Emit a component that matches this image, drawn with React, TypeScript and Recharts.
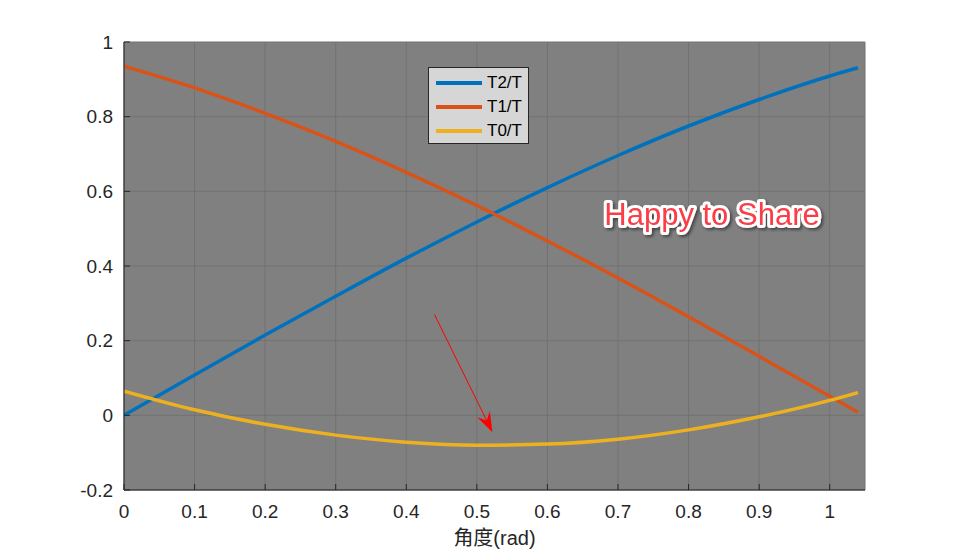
import { LineChart, Line, XAxis, YAxis, CartesianGrid, ReferenceLine } from 'recharts';

// angle (rad)
const X_VALUES = [0, 0.1, 0.2, 0.3, 0.4, 0.5, 0.6, 0.7, 0.8, 0.9, 1.0, 1.04];
const T2_VALUES = [0, 0.108, 0.215, 0.319, 0.421, 0.518, 0.61, 0.696, 0.775, 0.846, 0.909, 0.931];
const T1_VALUES = [0.935, 0.877, 0.809, 0.734, 0.651, 0.562, 0.467, 0.368, 0.264, 0.158, 0.051, 0.008];
const T0_VALUES = [0.065, 0.015, -0.024, -0.053, -0.072, -0.08, -0.077, -0.064, -0.039, -0.004, 0.04, 0.061];

const X_TICKS = [0, 0.1, 0.2, 0.3, 0.4, 0.5, 0.6, 0.7, 0.8, 0.9, 1];
const Y_TICKS = [-0.2, 0, 0.2, 0.4, 0.6, 0.8, 1];

const SERIES = [
  { key: 't2', name: 'T2/T', color: '#0072BD' },
  { key: 't1', name: 'T1/T', color: '#D95319' },
  { key: 't0', name: 'T0/T', color: '#EDB120' },
];

// arrow annotation, start -> tip
const ARROW = [
  { x: 0.44, y: 0.27 },
  { x: 0.522, y: -0.045 },
];

const data = X_VALUES.map((x, i) => ({
  x,
  t2: T2_VALUES[i],
  t1: T1_VALUES[i],
  t0: T0_VALUES[i],
}));

const FONT = '"Liberation Sans", Arial, Helvetica, sans-serif';
const AXIS_COLOR = '#262626';

function Arrow(props: any) {
  const { x1, y1, x2, y2 } = props;
  if (x1 == null) return null;
  const dx = x2 - x1;
  const dy = y2 - y1;
  const len = Math.sqrt(dx * dx + dy * dy);
  const ux = dx / len;
  const uy = dy / len;
  const headLen = 20;
  const notch = 13;
  const half = 7;
  const bx = x2 - ux * headLen;
  const by = y2 - uy * headLen;
  const nx = x2 - ux * notch;
  const ny = y2 - uy * notch;
  const pts = [
    [x2, y2],
    [bx - uy * half, by + ux * half],
    [nx, ny],
    [bx + uy * half, by - ux * half],
  ]
    .map((p) => p.join(','))
    .join(' ');
  return (
    <g>
      <line x1={x1} y1={y1} x2={nx} y2={ny} stroke="#ff0000" strokeWidth={1} />
      <polygon points={pts} fill="#ff0000" />
    </g>
  );
}

export default function App() {
  return (
    <div style={{ position: 'absolute', left: 0, top: 0, width: 956, height: 554, background: '#fff' }}>
      <LineChart
        width={956}
        height={554}
        data={data}
        margin={{ top: 42, right: 91, bottom: 0, left: 0 }}
      >
        <CartesianGrid stroke="#727272" fill="#808080" fillOpacity={1} strokeWidth={1} xAxisId="bottom" yAxisId="left" />
        <XAxis
          xAxisId="bottom"
          dataKey="x"
          type="number"
          domain={[0, 1.05]}
          ticks={X_TICKS}
          allowDataOverflow
          height={64}
          tickSize={-6}
          tickMargin={21}
          stroke={AXIS_COLOR}
          tick={{ fill: AXIS_COLOR, fontSize: 19, fontFamily: FONT }}
          interval={0}
          label={{
            content: ({ viewBox }: any) => (
              <text
                x={viewBox.x + viewBox.width / 2}
                y={viewBox.y + 55}
                textAnchor="middle"
                fill={AXIS_COLOR}
                fontSize={20}
                fontFamily={'"Liberation Sans", "Noto Sans CJK SC", sans-serif'}
              >
                角度(rad)
              </text>
            ),
          }}
        />
        <XAxis
          xAxisId="top"
          orientation="top"
          dataKey="x"
          type="number"
          domain={[0, 1.05]}
          ticks={X_TICKS}
          allowDataOverflow
          height={0}
          tickSize={-6}
          tick={false}
          stroke={AXIS_COLOR}
        />
        <YAxis
          yAxisId="left"
          type="number"
          domain={[-0.2, 1]}
          ticks={Y_TICKS}
          allowDataOverflow
          width={124}
          tickSize={-6}
          tickMargin={17}
          stroke={AXIS_COLOR}
          tick={{ fill: AXIS_COLOR, fontSize: 19, fontFamily: FONT }}
          interval={0}
        />
        <YAxis
          yAxisId="right"
          orientation="right"
          type="number"
          domain={[-0.2, 1]}
          ticks={Y_TICKS}
          allowDataOverflow
          width={0}
          tickSize={-6}
          tick={false}
          stroke={AXIS_COLOR}
        />
        {SERIES.map((s) => (
          <Line
            key={s.key}
            xAxisId="bottom"
            yAxisId="left"
            type="monotone"
            dataKey={s.key}
            name={s.name}
            stroke={s.color}
            strokeWidth={3.5}
            dot={false}
            isAnimationActive={false}
          />
        ))}
        <ReferenceLine
          xAxisId="bottom"
          yAxisId="left"
          segment={ARROW}
          ifOverflow="visible"
          shape={Arrow}
        />
      </LineChart>

      {/* legend box */}
      <div
        style={{
          position: 'absolute',
          left: 428,
          top: 67,
          width: 99,
          height: 75,
          background: '#d6d6d6',
          border: '1px solid #262626',
          fontFamily: FONT,
          fontSize: 17,
          color: '#000',
        }}
      >
        {SERIES.map((s, i) => (
          <div
            key={s.key}
            style={{ position: 'absolute', left: 7, top: 5 + i * 24, height: 20, display: 'flex', alignItems: 'center' }}
          >
            <div style={{ width: 46, height: 3.5, background: s.color }} />
            <span style={{ marginLeft: 5, lineHeight: '20px' }}>{s.name}</span>
          </div>
        ))}
      </div>

      {/* watermark text */}
      <svg
        width={956}
        height={554}
        style={{ position: 'absolute', left: 0, top: 0, pointerEvents: 'none', overflow: 'visible' }}
      >
        <defs>
          <filter id="shadow" x="-10%" y="-30%" width="120%" height="160%">
            <feDropShadow dx="2" dy="2" stdDeviation="1.5" floodColor="#000" floodOpacity="0.45" />
          </filter>
        </defs>
        <text
          x={712}
          y={225}
          textAnchor="middle"
          fontFamily={FONT}
          fontSize={31}
          fill="#fa3c46"
          stroke="#ffffff"
          strokeWidth={6}
          strokeLinejoin="round"
          paintOrder="stroke"
          filter="url(#shadow)"
        >
          Happy to Share
        </text>
      </svg>
    </div>
  );
}
